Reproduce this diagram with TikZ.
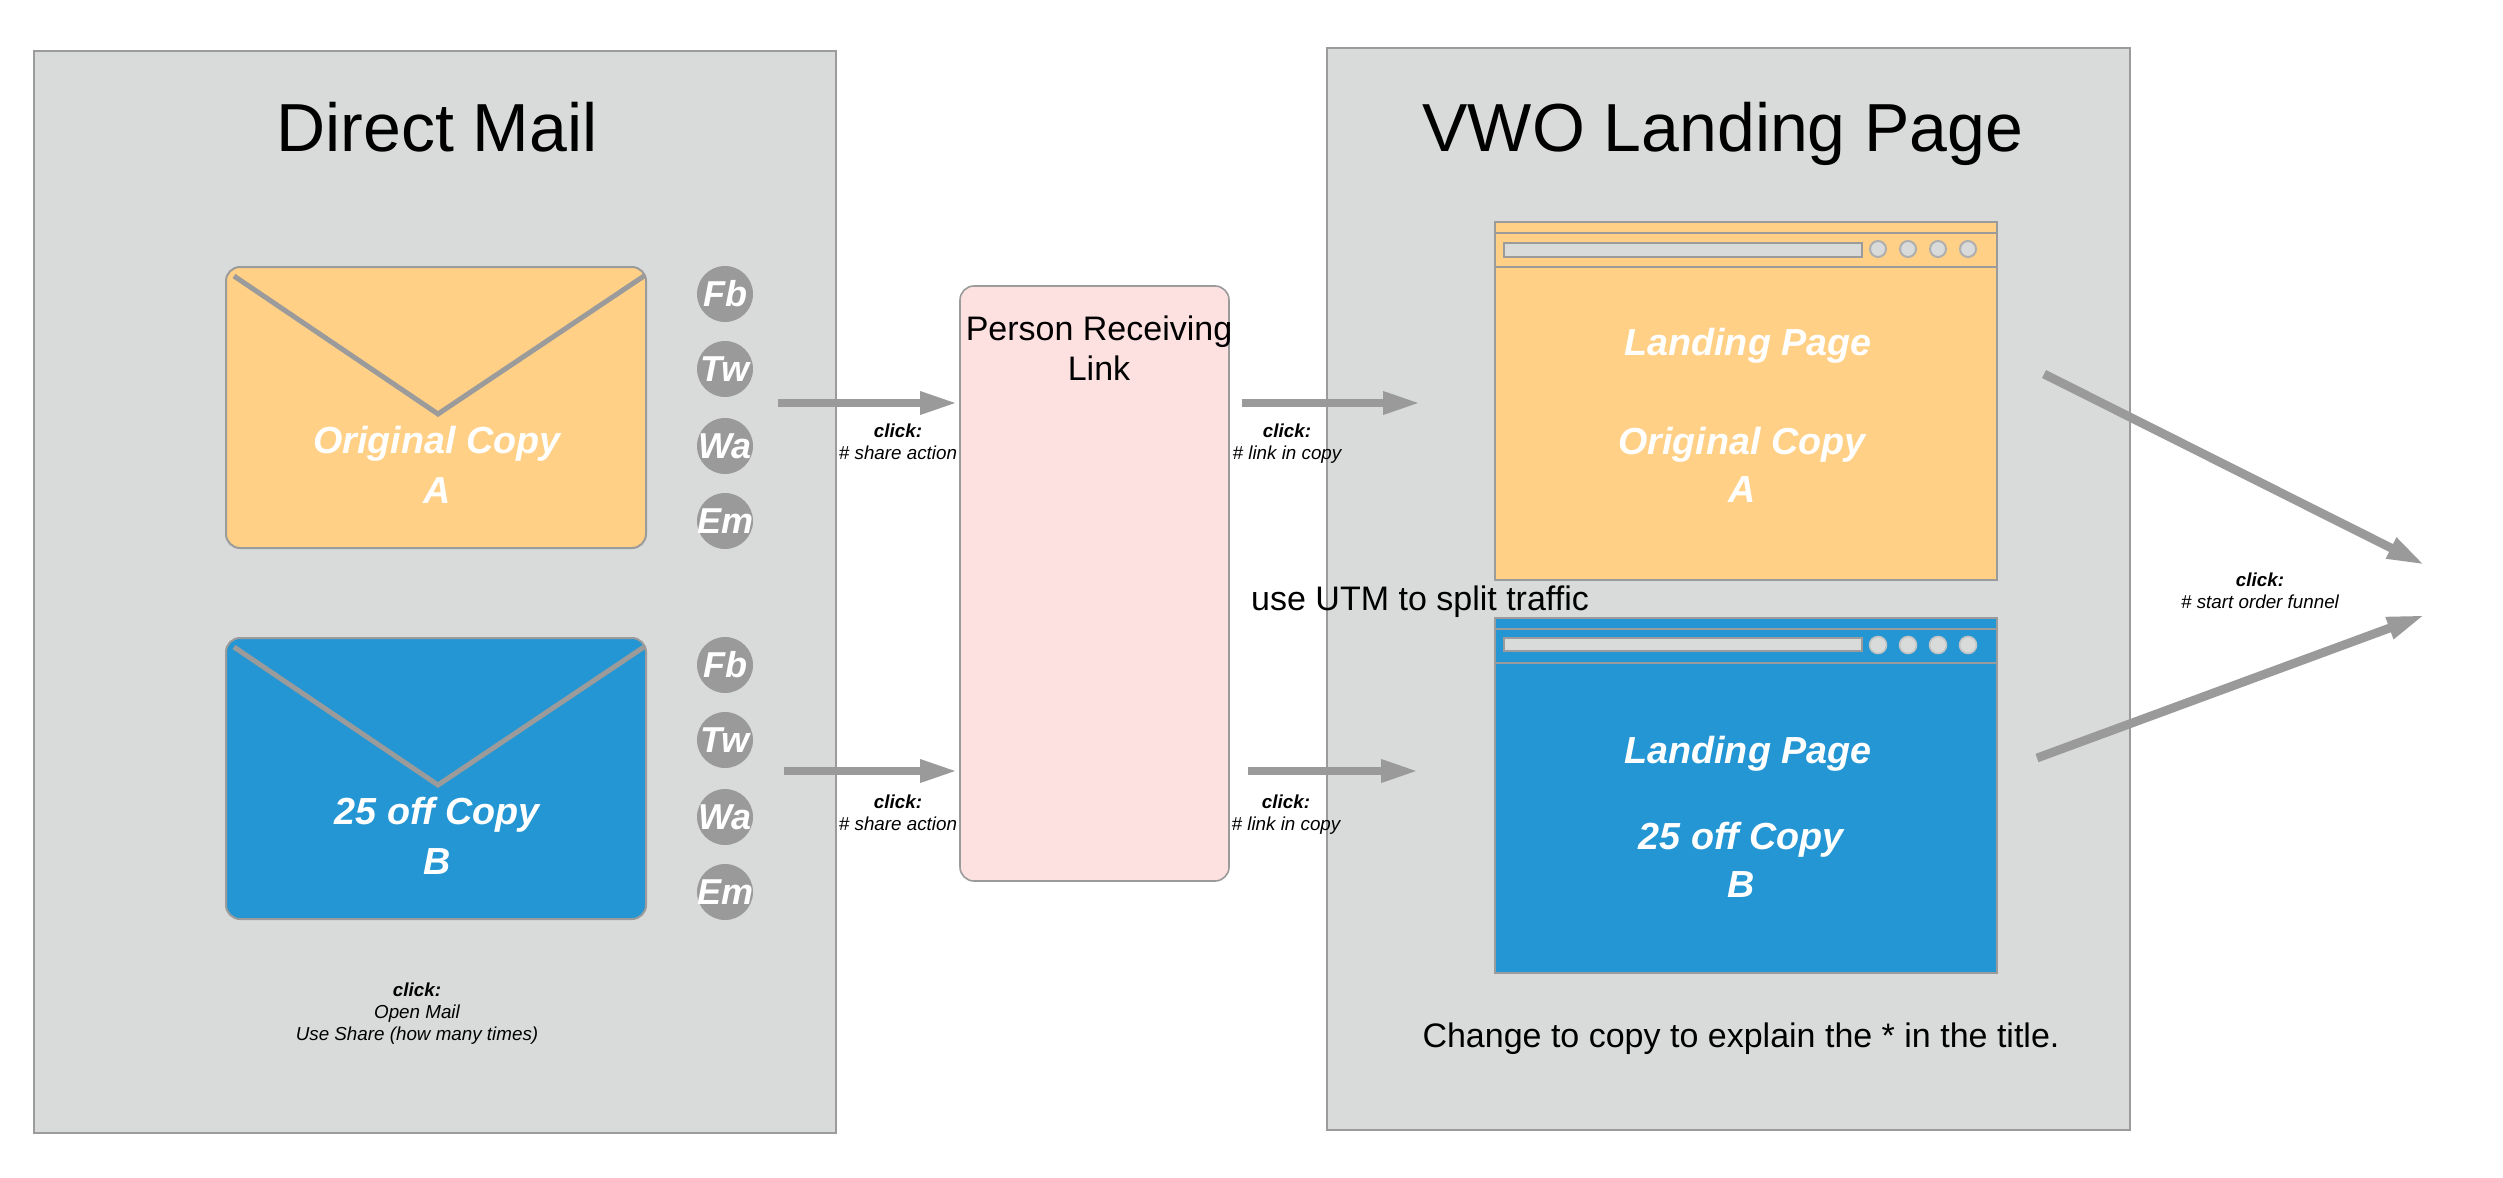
\documentclass[tikz,border=0pt]{standalone}
\usepackage{fontspec}
\setmainfont{Liberation Sans}
\usetikzlibrary{arrows.meta}
\definecolor{panelgray}{HTML}{D9DBDA}
\definecolor{edgegray}{HTML}{9B9B9B}
\definecolor{arrowgray}{HTML}{9A9A9A}
\definecolor{copyorange}{HTML}{FFD086}
\definecolor{copyblue}{HTML}{2396D3}
\definecolor{personpink}{HTML}{FDE0E0}
\newcommand{\pxbox}[6]{\node[#2,minimum width={(#5-#3)*0.5pt},minimum height={(#6-#4)*0.5pt}] (#1) at ({(#3+#5)/2},{(#4+#6)/2}) {};}
\tikzset{
  x=0.5pt,y=-0.5pt,
  every node/.style={inner sep=0pt,outer sep=0pt},
  panelbox/.style={draw=edgegray,line width=1pt,fill=panelgray},
  envelopeA/.style={draw=edgegray,line width=1pt,fill=copyorange,rounded corners=7pt},
  envelopeB/.style={draw=edgegray,line width=1pt,fill=copyblue,rounded corners=7pt},
  personbox/.style={draw=edgegray,line width=0.8pt,fill=personpink,rounded corners=7pt},
  pageA/.style={draw=edgegray,line width=1pt,fill=copyorange},
  pageB/.style={draw=edgegray,line width=1pt,fill=copyblue},
  urlbar/.style={draw=edgegray,line width=1pt,fill=panelgray},
  winline/.style={draw=edgegray,line width=1pt},
  flap/.style={draw=edgegray,line width=2.5pt,miter limit=10},
  btnA/.style={circle,draw=edgegray!80,line width=1pt,fill=panelgray,minimum size=8pt},
  btnB/.style={circle,draw=edgegray!60,line width=0.8pt,fill=panelgray,minimum size=8.5pt},
  sharedot/.style={circle,fill=arrowgray,minimum size=28pt},
  dotlabel/.style={anchor=base,text=white,font=\fontsize{18}{18}\selectfont\bfseries\itshape},
  flowarrow/.style={draw=arrowgray,fill=arrowgray,line width=4.4pt,-{Triangle[length=19pt,width=10.5pt]}},
  titletext/.style={anchor=base,font=\fontsize{34}{34}\selectfont,text=black},
  bodytext/.style={anchor=base,font=\fontsize{17}{20}\selectfont,text=black,align=center},
  copytext/.style={anchor=base,align=center,text=white,font=\fontsize{18.85}{25}\selectfont\bfseries\itshape},
  pagetext/.style={anchor=base,align=center,text=white,font=\fontsize{18.85}{24}\selectfont\bfseries\itshape},
  clicktext/.style={anchor=base,align=center,text=black,font=\fontsize{9.4}{11}\selectfont\itshape},
}
\newcommand{\clk}{{\bfseries click:}}
\newcommand{\sharedisc}[4]{\node[sharedot] (#1) at (#2,#3) {}; \node[dotlabel] (#1t) at (#2,#3+12) {#4};}
\begin{document}
\begin{tikzpicture}
\useasboundingbox (0,0) rectangle (2503,1177);
\fill[white] (0,0) rectangle (2503,1177);
% panels
\pxbox{mailpanel}{panelbox}{34}{51}{836}{1133}
\pxbox{vwopanel}{panelbox}{1327}{48}{2130}{1130}
\node[titletext] (mailtitle) at (437,151) {Direct Mail};
\node[titletext] (vwotitle) at (1723,151) {VWO Landing Page};
% envelopes
\pxbox{envA}{envelopeA}{226}{267}{646}{548}
\draw[flap] (234,276) -- (438,414) -- (644,276);
\node[copytext] (envAtext) at (437,503) {Original Copy\\A};
\pxbox{envB}{envelopeB}{226}{638}{646}{919}
\draw[flap] (234,647) -- (438,785) -- (644,647);
\node[copytext] (envBtext) at (437,874) {25 off Copy\\B};
% share dots
\sharedisc{fbA}{725}{294}{Fb}
\sharedisc{twA}{725}{369}{Tw}
\sharedisc{waA}{725}{446}{Wa}
\sharedisc{emA}{725}{521}{Em}
\sharedisc{fbB}{725}{665}{Fb}
\sharedisc{twB}{725}{740}{Tw}
\sharedisc{waB}{725}{817}{Wa}
\sharedisc{emB}{725}{892}{Em}
\node[clicktext] (mailclick) at (417,1040) {\clk\\Open Mail\\Use Share (how many times)};
% person
\pxbox{person}{personbox}{960}{286}{1229}{881}
\node[bodytext] (persontext) at (1099,380) {Person Receiving\\Link};
% browser A
\pxbox{pgA}{pageA}{1495}{222}{1997}{580}
\draw[winline] (pgA.west |- 0,233) -- (pgA.east |- 0,233);
\draw[winline] (pgA.west |- 0,267) -- (pgA.east |- 0,267);
\pxbox{urlA}{urlbar}{1504}{243}{1862}{257}
\node[btnA] (a1) at (1878,249) {};
\node[btnA] (a2) at (1908,249) {};
\node[btnA] (a3) at (1938,249) {};
\node[btnA] (a4) at (1968,249) {};
\node[pagetext] (pgAtitle) at (1748,355) {Landing Page};
\node[pagetext] (pgAtext) at (1742,502) {Original Copy\\A};
% browser B
\pxbox{pgB}{pageB}{1495}{618}{1997}{973}
\draw[winline] (pgB.west |- 0,629) -- (pgB.east |- 0,629);
\draw[winline] (pgB.west |- 0,663) -- (pgB.east |- 0,663);
\pxbox{urlB}{urlbar}{1504}{638}{1862}{651}
\node[btnB] (b1) at (1878,645) {};
\node[btnB] (b2) at (1908,645) {};
\node[btnB] (b3) at (1938,645) {};
\node[btnB] (b4) at (1968,645) {};
\node[pagetext] (pgBtitle) at (1748,763) {Landing Page};
\node[pagetext] (pgBtext) at (1741,897) {25 off Copy\\B};
% floating texts
\node[bodytext] (utm) at (1420,610) {use UTM to split traffic};
\node[bodytext] (change) at (1741,1047) {Change to copy to explain the * in the title.};
% arrow ends
\coordinate (s1) at (778,403); \coordinate (t1) at (958,403);
\coordinate (s2) at (784,771); \coordinate (t2) at (958,771);
\coordinate (s3) at (1242,403); \coordinate (t3) at (1421,403);
\coordinate (s4) at (1248,771); \coordinate (t4) at (1419,771);
\coordinate (s5) at (2044,374); \coordinate (t5) at (2425,565);
\coordinate (s6) at (2037,758); \coordinate (t6) at (2425,615);
\draw[flowarrow] (s1) -- (t1);
\draw[flowarrow] (s2) -- (t2);
\draw[flowarrow] (s3) -- (t3);
\draw[flowarrow] (s4) -- (t4);
\draw[flowarrow] (s5) -- (t5);
\draw[flowarrow] (s6) -- (t6);
\node[clicktext] (c1) at (898,459) {\clk\\\# share action};
\node[clicktext] (c2) at (898,830) {\clk\\\# share action};
\node[clicktext] (c3) at (1287,459) {\clk\\\# link in copy};
\node[clicktext] (c4) at (1286,830) {\clk\\\# link in copy};
\node[clicktext] (c5) at (2260,608) {\clk\\\# start order funnel};
\end{tikzpicture}
\end{document}
